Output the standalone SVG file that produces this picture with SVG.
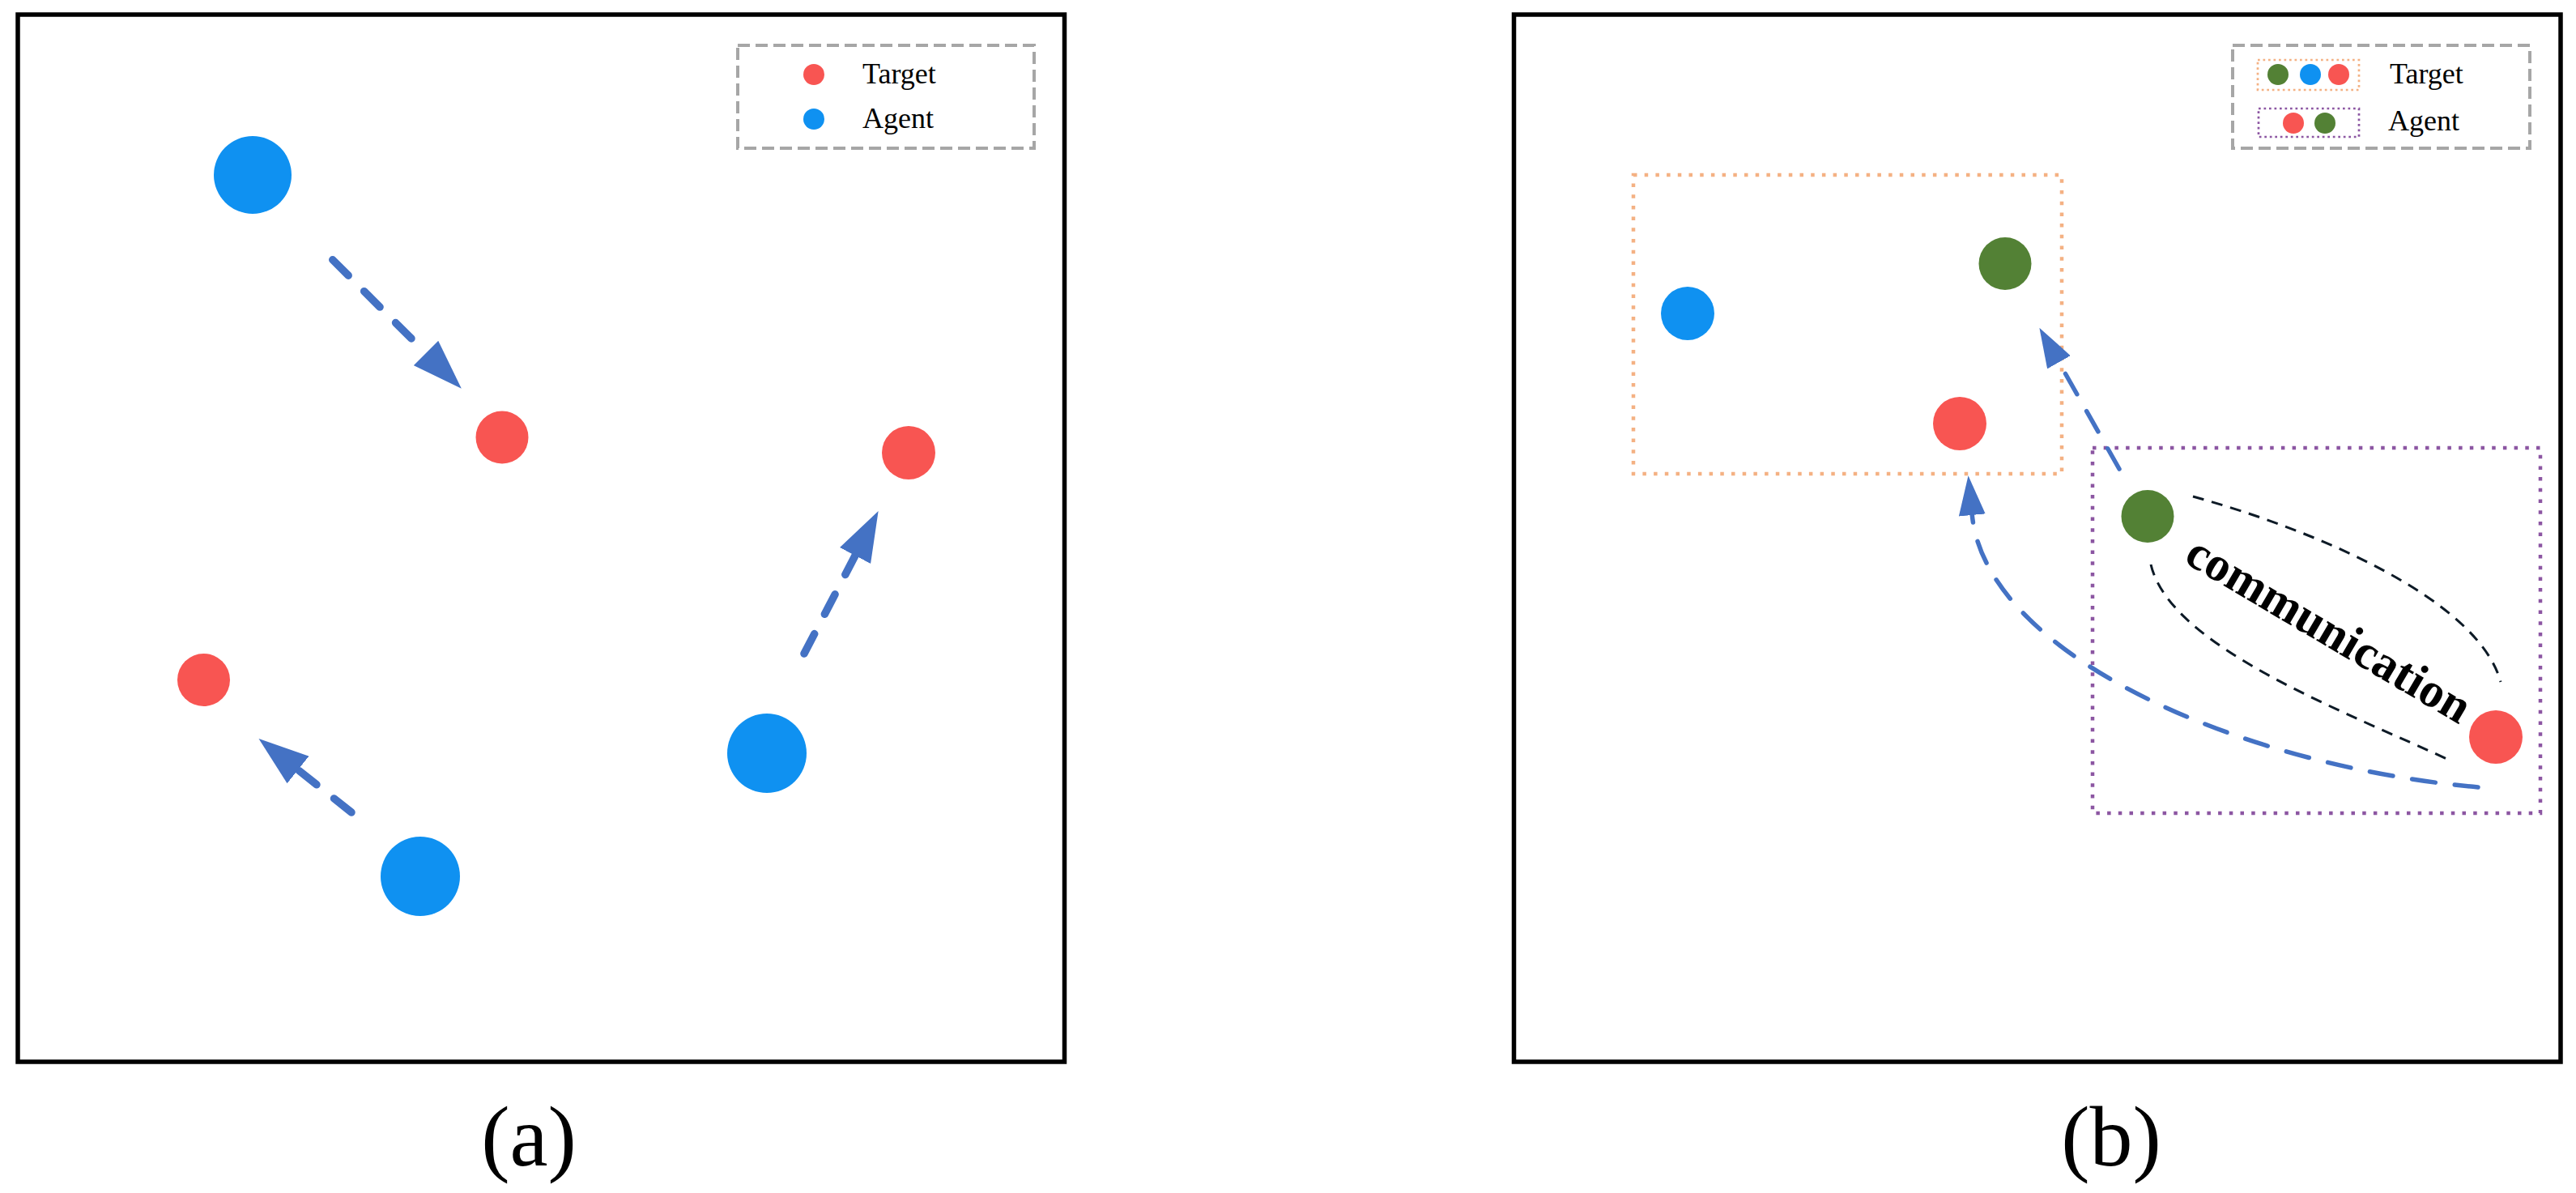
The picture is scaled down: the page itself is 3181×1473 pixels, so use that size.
<svg xmlns="http://www.w3.org/2000/svg" width="3181" height="1473" viewBox="0 0 3181 1473">
<style>
.frame{fill:none;stroke:#000;stroke-width:5.5}
.legend{fill:none;stroke:#a6a6a6;stroke-width:4;stroke-dasharray:15 7}
.t{fill:#f85552}
.a{fill:#0f91f1}
.g{fill:#538135}
.lbl{font-family:"Liberation Serif","Times New Roman",serif;fill:#000}
.leg{font-size:36px}
.cap{font-size:106px;text-anchor:middle}
.arrA{fill:none;stroke:#4472c4;stroke-width:9.5;stroke-linecap:round;stroke-dasharray:27.5 27.5}
.arrB{fill:none;stroke:#4472c4;stroke-width:5.5;stroke-linecap:round;stroke-dasharray:29 24}
.orange{fill:none;stroke:#f4b183;stroke-width:4.5;stroke-dasharray:4.5 9.2}
.purple{fill:none;stroke:#8c56a2;stroke-width:4.5;stroke-dasharray:4.5 9.2}
.orangeS{fill:none;stroke:#f4b183;stroke-width:2.7;stroke-dasharray:2.7 3.8}
.purpleS{fill:none;stroke:#8c56a2;stroke-width:2.7;stroke-dasharray:2.7 3.8}
.comm{fill:none;stroke:#0d1a26;stroke-width:3;stroke-dasharray:14 10}
</style>
<defs>
<marker id="headA" markerUnits="userSpaceOnUse" markerWidth="62" markerHeight="43" viewBox="0 0 62 43" refX="0" refY="21.5" orient="auto"><path d="M0,0 L62,21.5 L0,43 z" fill="#4472c4"/></marker>
<marker id="headB" markerUnits="userSpaceOnUse" markerWidth="49" markerHeight="33" viewBox="0 0 49 33" refX="0" refY="16.5" orient="auto"><path d="M0,0 L49,16.5 L0,33 z" fill="#4472c4"/></marker>
</defs>
<rect width="3181" height="1473" fill="#fff"/>

<!-- Panel (a) -->
<g id="panel-a">
<rect class="frame" x="22" y="18" width="1292.5" height="1293"/>
<g id="legend-a">
<rect class="legend" x="911" y="56" width="366" height="127"/>
<circle class="t" cx="1005" cy="92" r="13"/>
<circle class="a" cx="1005" cy="147" r="13"/>
<text class="lbl leg" x="1065" y="103">Target</text>
<text class="lbl leg" x="1065" y="158">Agent</text>
</g>
<g id="a-agent1"><circle class="a" cx="312" cy="216" r="48"/></g>
<g id="a-target1"><circle class="t" cx="620" cy="540" r="32.5"/></g>
<g id="a-target2"><circle class="t" cx="1122" cy="559" r="33"/></g>
<g id="a-agent2"><circle class="a" cx="947" cy="930" r="49"/></g>
<g id="a-target3"><circle class="t" cx="251.5" cy="839.5" r="32.5"/></g>
<g id="a-agent3"><circle class="a" cx="519" cy="1082" r="49"/></g>
<text class="lbl cap" x="653" y="1439">(a)</text>
</g>

<!-- Panel (b) -->
<g id="panel-b">
<rect class="frame" x="1869.5" y="18" width="1292.5" height="1293"/>
<g id="legend-b">
<rect class="legend" x="2757" y="56" width="367" height="127"/>
<rect class="orangeS" x="2788" y="74" width="125" height="37"/>
<circle class="g" cx="2813" cy="92" r="13"/>
<circle class="a" cx="2853" cy="92" r="13"/>
<circle class="t" cx="2888" cy="92" r="13"/>
<rect class="purpleS" x="2789" y="134" width="124" height="35"/>
<circle class="t" cx="2832" cy="152" r="13"/>
<circle class="g" cx="2871" cy="152" r="13"/>
<text class="lbl leg" x="2951" y="103">Target</text>
<text class="lbl leg" x="2949" y="161">Agent</text>
</g>
<g id="target-group"><rect class="orange" x="2017" y="216" width="529" height="369"/></g>
<g id="agent-group"><rect class="purple" x="2584" y="553" width="553" height="451"/></g>
<g id="b-target-blue"><circle class="a" cx="2084" cy="387" r="33"/></g>
<g id="b-target-green"><circle class="g" cx="2476" cy="325.5" r="32.5"/></g>
<g id="b-target-red"><circle class="t" cx="2420" cy="523" r="33"/></g>
<g id="b-agent-green"><circle class="g" cx="2652" cy="637.5" r="32.5"/></g>
<g id="b-agent-red"><circle class="t" cx="3082" cy="910" r="33"/></g>
<g id="communication">
<path class="comm" d="M2708,613 C2860,655 3060,740 3088,842"/>
<path class="comm" d="M2656,697 C2680,800 2900,880 3028,940"/>
<text class="lbl" font-size="60" font-weight="bold" text-anchor="middle" x="2866" y="794" transform="rotate(30.5 2866 794)">communication</text>
</g>
<text class="lbl cap" x="2607" y="1439">(b)</text>
</g>

<g id="connectors">
<path class="arrA" d="M410.75,320.75 L526,436" marker-end="url(#headA)"/>
<path class="arrA" d="M434,1003 L368,950.5" marker-end="url(#headA)"/>
<path class="arrA" d="M993,807 L1056,686" marker-end="url(#headA)"/>
<path class="arrB" d="M2617,579 L2542.5,447.3" marker-end="url(#headB)"/>
<path class="arrB" d="M3060,972 C2760,945 2452,806 2435.3,636" marker-end="url(#headB)"/>
</g>
</svg>
